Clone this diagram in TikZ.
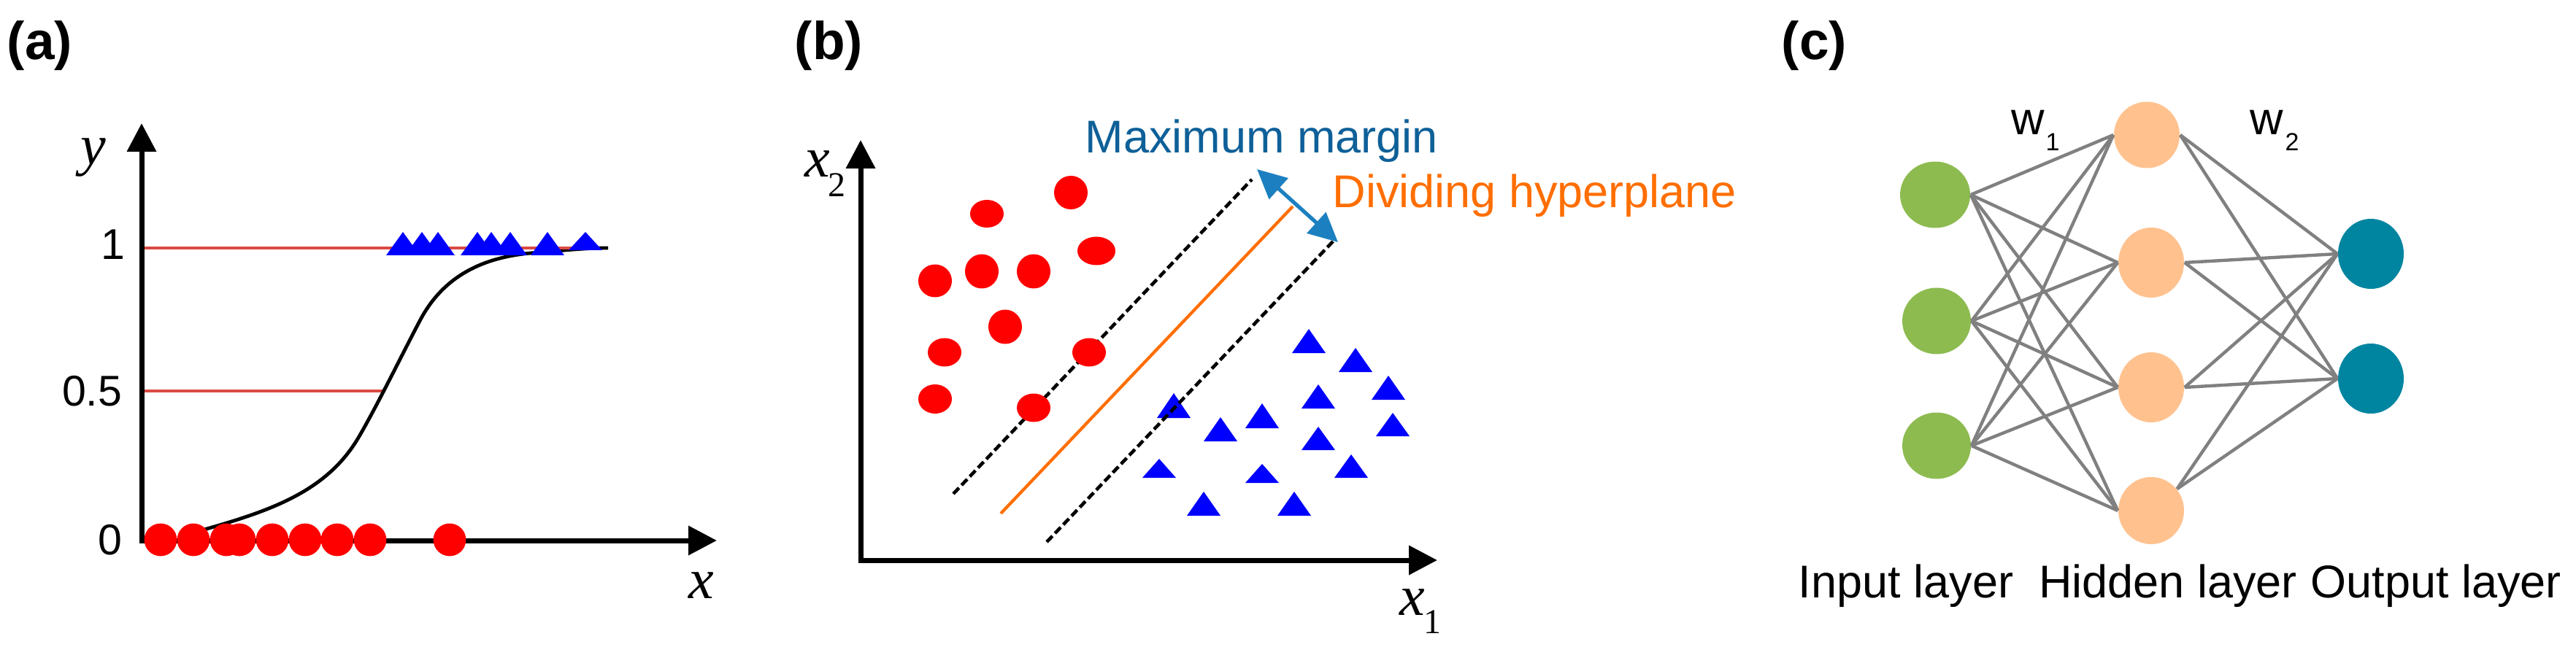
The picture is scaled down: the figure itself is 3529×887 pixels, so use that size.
\documentclass[tikz,border=0pt]{standalone}
\usepackage{fontspec}
\setmainfont{Liberation Sans}
\newfontfamily\tms{Liberation Serif}
\usetikzlibrary{arrows.meta,shapes.geometric}
\definecolor{refred}{RGB}{218,74,68}
\definecolor{txtblue}{RGB}{14,96,152}
\definecolor{arrblue}{RGB}{28,128,192}
\definecolor{orng}{RGB}{255,110,0}
\definecolor{ingreen}{RGB}{141,187,80}
\definecolor{peach}{RGB}{255,194,143}
\definecolor{teal}{RGB}{0,133,160}
\definecolor{edgegray}{RGB}{128,128,128}
\newcommand{\mytri}[3]{\fill[blue] ({#1-23},#3) -- (#1,#2) -- ({#1+23},#3) -- cycle;}
\newcommand{\mydot}[2]{\fill[red] (#1,#2) circle[radius=5.6pt];}
\newcommand{\myell}[4]{\fill[red] (#1,#2) ellipse[x radius=#3*0.25pt, y radius=#4*0.25pt];}
\begin{document}
\begin{tikzpicture}[x=0.25pt,y=-0.25pt,
  lbl/.style={font=\bfseries\fontsize{18.25pt}{20pt}\selectfont, inner sep=0, anchor=base west},
  tick/.style={font=\fontsize{14.75pt}{16pt}\selectfont, inner sep=0, anchor=east},
  ital/.style={font=\tms\itshape\fontsize{19.5pt}{22pt}\selectfont, inner sep=0, anchor=base},
  subs/.style={font=\tms\fontsize{12pt}{14pt}\selectfont, inner sep=0, anchor=base},
  txt/.style={font=\fontsize{15.75pt}{18pt}\selectfont, inner sep=0},
  wsub/.style={font=\fontsize{8.5pt}{10pt}\selectfont, inner sep=0, anchor=base},
  axis/.style={line width=1.75pt, line join=miter, {Triangle[length=9.75pt,width=9.75pt]}-{Triangle[length=9.75pt,width=9.75pt]}},
  refline/.style={draw=refred, line width=1.15pt},
  sigm/.style={line width=1.2pt},
  marginline/.style={line width=1.15pt, dash pattern=on 2.8pt off 1.3pt},
  hyper/.style={draw=orng, line width=1.05pt},
  marr/.style={draw=arrblue, line width=1.3pt, {Triangle[length=10pt,width=9.5pt]}-{Triangle[length=10pt,width=9.5pt]}},
  neuron/.style={ellipse, inner sep=0, draw=none, minimum width=23pt, minimum height=23pt},
  edge/.style={draw=edgegray, line width=1.1pt},
]
\fill[white] (0,0) rectangle (3529,887);
\useasboundingbox (0,0) rectangle (3529,887);

% ---------------- (a) ----------------
\node[lbl] (la) at (9,82) {(a)};
\coordinate (a-ytip) at (194,169);
\coordinate (a-orig) at (194,741);
\coordinate (a-xtip) at (982,741);
\coordinate (a-h1s) at (194,340);
\coordinate (a-h1e) at (800,340);
\coordinate (a-h5s) at (194,536);
\coordinate (a-h5e) at (525,536);
\draw[refline] (a-h5s) -- (a-h5e);
\draw[sigm] (262,731) .. controls (362,703) and (445,678) .. (491,600)
  .. controls (516,557.5) and (550,487.5) .. (575,440)
  .. controls (610,373) and (670,350) .. (740,346)
  .. controls (770,343.5) and (800,340) .. (833,340);
\draw[refline] (a-h1s) -- (a-h1e);
\draw[axis] (a-ytip) -- (a-orig) -- (a-xtip);
\node[tick] (t1) at (172,335) {1};
\node[tick] (t05) at (168,536) {0.5};
\node[tick] (t0) at (168,740) {0};
\node[ital] (ly) at (128,226) {y};
\node[ital] (lx) at (961,820) {x};
\foreach \xx in {220,265,310,328,373,418,462,507,616} {\mydot{\xx}{740}}
\foreach \xx in {552,578,600,654,673,699,750} {\mytri{\xx}{318}{350}}
\mytri{802}{318}{343}

% ---------------- (b) ----------------
\node[lbl] (lb) at (1088,82) {(b)};
\coordinate (b-ytip) at (1179,192);
\coordinate (b-orig) at (1179,768);
\coordinate (b-xtip) at (1969,768);
\draw[axis] (b-ytip) -- (b-orig) -- (b-xtip);
\node[ital] (lx2) at (1120,243) {x};
\node[subs] (lx2s) at (1146,270) {2};
\node[ital] (lx1) at (1935,843) {x};
\node[subs] (lx1s) at (1962,868) {1};
\coordinate (d1a) at (1306,677);
\coordinate (d1b) at (1715,246);
\coordinate (hpa) at (1371,704);
\coordinate (hpb) at (1771,283);
\coordinate (d2a) at (1434,743);
\coordinate (d2b) at (1827,330);
\draw[marginline] (d1a) -- (d1b);
\draw[hyper] (hpa) -- (hpb);
\myell{1467}{264}{23}{23}
\myell{1352}{293}{23}{19}
\myell{1502}{344}{26}{19.5}
\myell{1281}{385}{23}{22.5}
\myell{1345}{372}{23}{23.5}
\myell{1416}{372}{23}{23.5}
\myell{1377}{448}{23}{23.5}
\myell{1294}{483}{23}{19.5}
\myell{1492}{483}{23}{19.5}
\myell{1281}{547}{23}{20}
\myell{1416}{559}{23}{19.5}
\mytri{1793}{451}{484}
\mytri{1857}{477}{510}
\mytri{1902}{515}{548}
\mytri{1806}{527}{560}
\mytri{1608}{539}{573}
\mytri{1729}{553}{587}
\mytri{1672}{572}{605}
\mytri{1908}{566}{598}
\mytri{1806}{585}{617}
\mytri{1588}{629}{655}
\mytri{1729}{636}{662}
\mytri{1851}{623}{655}
\mytri{1649}{674}{707}
\mytri{1773}{674}{707}
\draw[marginline] (d2a) -- (d2b);
\coordinate (mt) at (1722,232);
\coordinate (mb) at (1833,332);
\draw[marr] (mt) -- (mb);
\node[txt, text=txtblue, anchor=base west] (mm) at (1486,210) {Maximum margin};
\node[txt, text=orng, anchor=base west] (dh) at (1825,285) {Dividing hyperplane};

% ---------------- (c) ----------------
\node[lbl] (lc) at (2440,82) {(c)};
\node[neuron, fill=ingreen, minimum width=24pt, minimum height=22.75pt] (i1) at (2651,267) {};
\node[neuron, fill=ingreen, minimum width=23.5pt, minimum height=22.75pt] (i2) at (2653,440) {};
\node[neuron, fill=ingreen, minimum width=23.5pt, minimum height=22.75pt] (i3) at (2653,611) {};
\node[neuron, fill=peach, minimum width=22.5pt, minimum height=22.75pt] (h1) at (2941,185) {};
\node[neuron, fill=peach, minimum width=22.5pt, minimum height=24pt] (h2) at (2947,360) {};
\node[neuron, fill=peach, minimum width=22.5pt, minimum height=24pt] (h3) at (2947,531) {};
\node[neuron, fill=peach, minimum width=22.5pt, minimum height=23pt] (h4) at (2947,700) {};
\node[neuron, fill=teal, minimum width=22.5pt, minimum height=24pt] (o1) at (3248,348) {};
\node[neuron, fill=teal, minimum width=22.5pt, minimum height=24pt] (o2) at (3248,519) {};
\foreach \i in {i1,i2,i3} {
  \foreach \h in {h1,h2,h3,h4} {\draw[edge] (\i.east) -- (\h.west);}
}
\foreach \o in {o1,o2} {
  \draw[edge] (h1.east) -- (\o.west);
  \draw[edge] (h2.east) -- (\o.west);
  \draw[edge] (h3.east) -- (\o.west);
  \draw[edge] (h4.40) -- (\o.west);
}
\node[txt, anchor=base] (w1) at (2778,185) {w};
\node[wsub] (w1s) at (2812,207) {1};
\node[txt, anchor=base] (w2) at (3105,185) {w};
\node[wsub] (w2s) at (3140,207) {2};
\node[txt, anchor=base] (il) at (2611,819) {Input layer};
\node[txt, anchor=base] (hl) at (2970,819) {Hidden layer};
\node[txt, anchor=base] (ol) at (3337,819) {Output layer};
\end{tikzpicture}
\end{document}
